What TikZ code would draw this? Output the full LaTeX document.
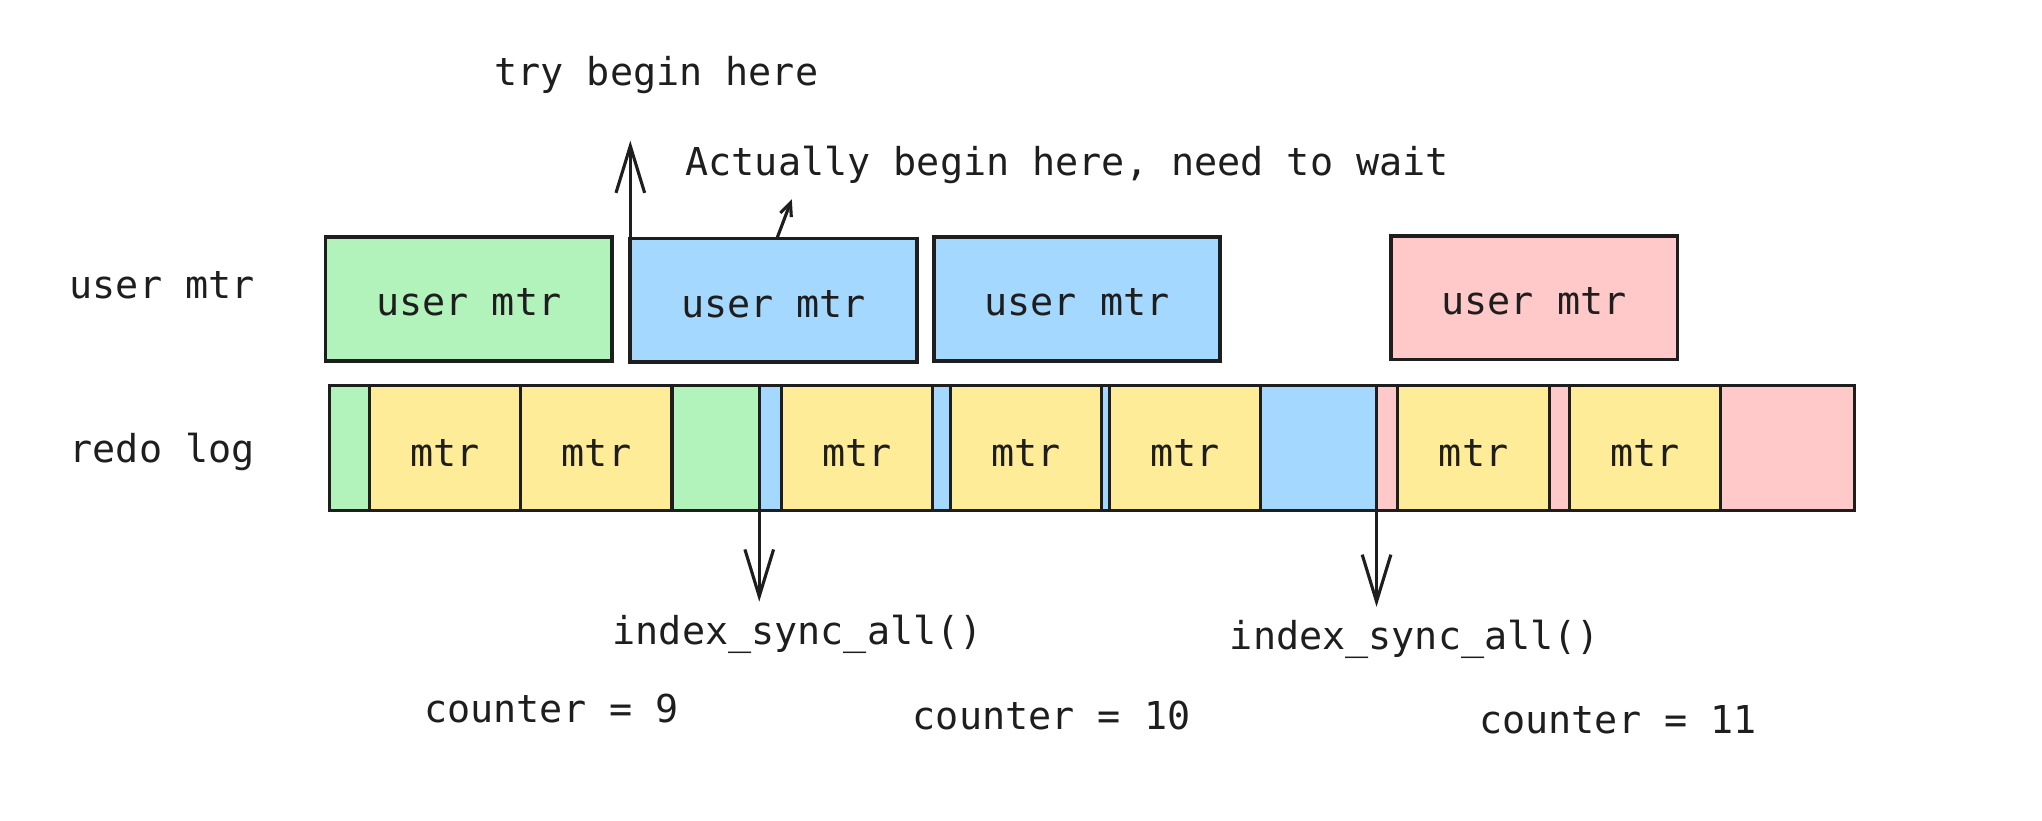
\documentclass[tikz,border=0pt]{standalone}
\usepackage{fontspec}
\setmonofont{DejaVu Sans Mono}
\usetikzlibrary{arrows.meta}
\definecolor{ink}{HTML}{1E1E1E}
\definecolor{fgreen}{HTML}{B2F2BB}
\definecolor{fblue}{HTML}{A5D8FF}
\definecolor{fpink}{HTML}{FFC9C9}
\definecolor{fyellow}{HTML}{FFEC99}
\begin{document}
\begin{tikzpicture}[x=1pt,y=-1pt,
  txt/.style={font=\ttfamily\fontsize{29.5}{34}\selectfont, text=ink, inner sep=0pt, anchor=base},
  ubox/.style={draw=ink, line width=2.8pt, minimum width=220pt, minimum height=95pt, inner sep=0pt, outer sep=0pt,
    font=\ttfamily\fontsize{29.5}{34}\selectfont, text=ink, text height=26pt, text depth=0pt},
  seg/.style={draw=ink, line width=2.4pt, minimum height=96pt, inner sep=0pt, outer sep=0pt, anchor=north west,
    font=\ttfamily\fontsize{29.5}{34}\selectfont, text=ink, text height=28pt, text depth=0pt},
  frame/.style={draw=ink, line width=3pt, minimum height=96pt, minimum width=1171pt, inner sep=0pt, outer sep=0pt, anchor=north west},
  arr/.style={draw=ink, line width=2.4pt, line cap=round, -{Straight Barb[length=36pt,width=22pt]}},
  sarr/.style={draw=ink, line width=2.4pt, line cap=round, -{Straight Barb[length=10pt,width=9pt]}},
]
\fill[white] (0,0) rectangle (1568,630);
\useasboundingbox (0,0) rectangle (1568,630);

% labels
\node[txt] (trylbl) at (504,66) {try begin here};
\node[txt] (actlbl) at (819.5,135) {Actually begin here, need to wait};
\node[txt] (userlbl) at (124.5,229) {user mtr};
\node[txt] (redolbl) at (124.5,355) {redo log};

% user mtr boxes
\node[ubox, fill=fgreen] (ug) at (360,229.5) {user mtr};
\node[ubox, fill=fblue] (ub1) at (594,230.5) {user mtr};
\node[ubox, fill=fblue] (ub2) at (827,229.5) {user mtr};
\node[ubox, fill=fpink] (up) at (1178,228.5) {user mtr};

% redo log segments
\node[seg, fill=fgreen, minimum width=31pt] (s1) at (253,296) {};
\node[seg, fill=fyellow, minimum width=116pt] (m1) at (284,296) {mtr};
\node[seg, fill=fyellow, minimum width=116pt] (m2) at (400,296) {mtr};
\node[seg, fill=fgreen, minimum width=67pt] (s2) at (516,296) {};
\node[seg, fill=fblue, minimum width=17pt] (s3) at (583,296) {};
\node[seg, fill=fyellow, minimum width=116pt] (m3) at (600,296) {mtr};
\node[seg, fill=fblue, minimum width=14pt] (s4) at (716,296) {};
\node[seg, fill=fyellow, minimum width=116pt] (m4) at (730,296) {mtr};
\node[seg, fill=fblue, minimum width=6pt] (s5) at (846,296) {};
\node[seg, fill=fyellow, minimum width=116pt] (m5) at (852,296) {mtr};
\node[seg, fill=fblue, minimum width=89pt] (s6) at (968,296) {};
\node[seg, fill=fpink, minimum width=16pt] (s7) at (1057,296) {};
\node[seg, fill=fyellow, minimum width=117pt] (m6) at (1073,296) {mtr};
\node[seg, fill=fpink, minimum width=15pt] (s8) at (1190,296) {};
\node[seg, fill=fyellow, minimum width=116pt] (m7) at (1205,296) {mtr};
\node[seg, fill=fpink, minimum width=103pt] (s9) at (1321,296) {};
\node[frame] (bar) at (253,296) {};

% bottom labels
\node[txt] (sync1) at (612.5,495) {index\_sync\_all()};
\node[txt] (sync2) at (1086.5,499) {index\_sync\_all()};
\node[txt] (c9) at (423.5,555) {counter = 9};
\node[txt] (c10) at (807.5,560) {counter = 10};
\node[txt] (c11) at (1242.5,563) {counter = 11};

% arrows
\coordinate (upTip) at (484,108);
\coordinate (smStart) at (597,182);
\coordinate (smTip) at (608,153);
\coordinate (d1Tip) at (583,462);
\coordinate (d2Tip) at (1057,466);
\draw[arr] (ub1.north west) -- (upTip);
\draw[sarr] (smStart) -- (smTip);
\draw[arr] (s2.south east) -- (d1Tip);
\draw[arr] (s6.south east) -- (d2Tip);
\end{tikzpicture}
\end{document}
